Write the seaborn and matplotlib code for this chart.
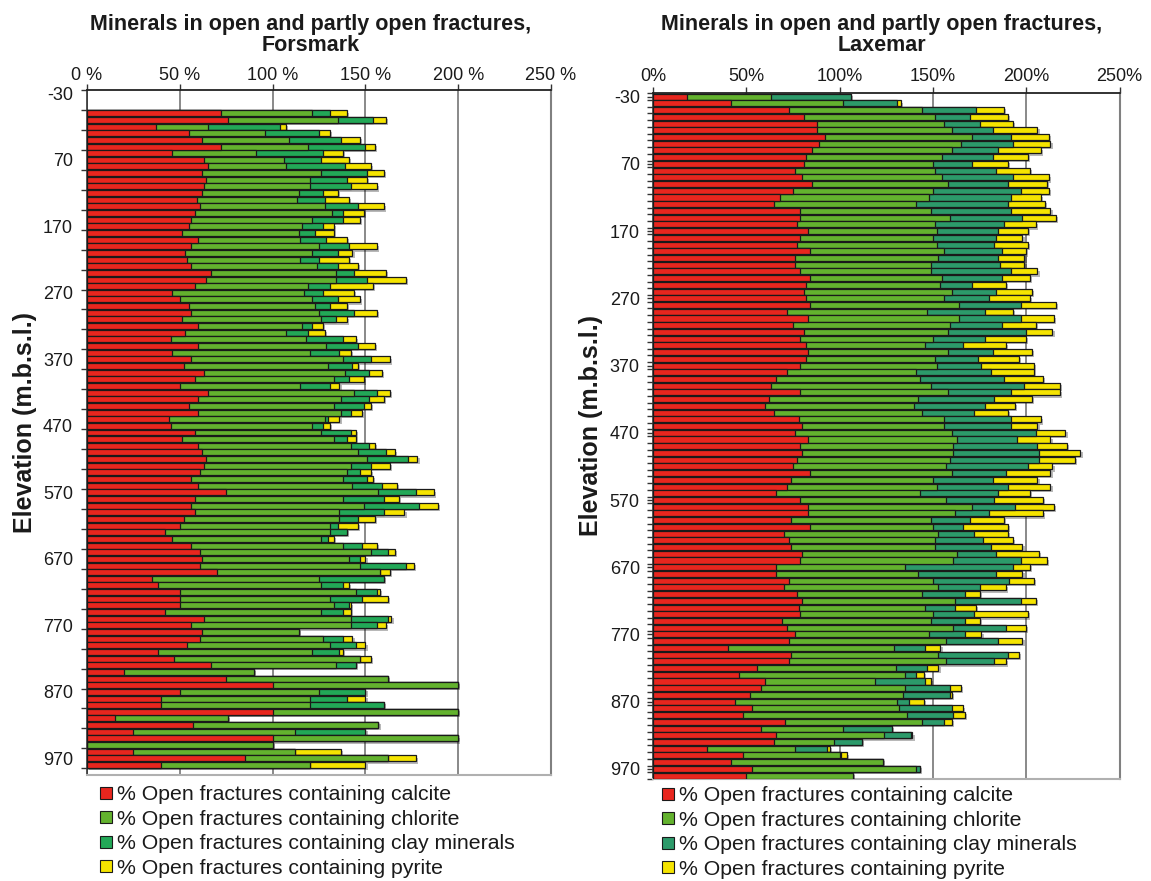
import numpy as np
import pandas as pd
import matplotlib
matplotlib.use("Agg")
import matplotlib.pyplot as plt
import matplotlib.patheffects as pe
from matplotlib.lines import Line2D
import seaborn as sns

sns.set_theme(style="white")
plt.rcParams["font.family"] = ["Liberation Sans", "DejaVu Sans"]

nan = np.nan

# ---------------- Forsmark (elevation -30 ... 990 m, step 10) ----------------
fors_elev = list(range(-30, 1000, 10))
fors_calcite = [nan, nan, nan, 72, 76, 37, 55, 62, 72, 46,
                63, 65, 62, 64, 63, 62, 59, 61, 58, 56,
                55, 51, 60, 56, 53, 54, 56, 67, 64, 58,
                46, 50, 55, 56, 51, 60, 53, 45, 60, 46,
                56, 52, 63, 58, 50, 65, 60, 55, 60, 44,
                45, 58, 51, 60, 62, 64, 63, 61, 56, 60,
                75, 58, 56, 58, 52, 50, 42, 46, 56, 61,
                62, 61, 70, 35, 38, 50, 50, 50, 42, 63,
                56, 62, 61, 54, 38, 47, 67, 20, 75, 100,
                50, 40, 40, 100, 15, 57, 25, 100, 0, 25,
                85, 40, nan]
fors_chlorite = [nan, nan, nan, 49, 59, 28, 41, 47, 47, 45,
                 43, 42, 64, 56, 57, 52, 54, 67, 74, 65,
                 61, 63, 55, 69, 68, 61, 68, 67, 70, 61,
                 71, 71, 68, 69, 75, 56, 54, 73, 69, 74,
                 82, 78, 76, 75, 65, 79, 77, 78, 77, 84,
                 76, 68, 82, 82, 84, 87, 79, 79, 82, 83,
                 82, 80, 93, 78, 84, 81, 89, 80, 82, 92,
                 79, 86, 88, 90, 88, 95, 81, 83, 84, 79,
                 86, 52, 66, 77, 83, 100, 67, 70, 87, 100,
                 75, 80, 80, 100, 61, 100, 87, 100, 100, 87,
                 77, 80, nan]
fors_clay = [nan, nan, nan, 10, 19, 39, 29, 28, 31, 36,
             20, 32, 25, 20, 22, 13, 15, 18, 6, 17,
             11, 9, 14, 16, 14, 10, 11, 10, 17, 12,
             10, 14, 8, 19, 8, 5, 12, 20, 17, 16,
             15, 13, 13, 8, 16, 12, 15, 16, 5, 2,
             6, 16, 7, 10, 15, 22, 11, 7, 13, 16,
             20, 22, 30, 24, 10, 4, 9, 4, 10, 9,
             6, 25, 0, 35, 12, 11, 17, 8, 12, 20,
             14, 0, 11, 14, 15, 0, 11, 0, 0, 0,
             25, 20, 40, 0, 0, 0, 38, 0, 0, 0,
             0, 0, nan]
fors_pyrite = [nan, nan, nan, 9, 7, 3, 6, 10, 5, 11,
               15, 14, 9, 11, 14, 8, 13, 14, 11, 9,
               6, 10, 11, 15, 8, 16, 11, 17, 21, 23,
               17, 12, 9, 12, 6, 6, 9, 7, 9, 6,
               10, 3, 7, 8, 5, 7, 8, 4, 6, 6,
               4, 3, 5, 3, 5, 5, 10, 6, 3, 8,
               10, 8, 10, 11, 9, 11, 0, 3, 8, 4,
               3, 4, 5, 0, 3, 2, 14, 1, 4, 2,
               5, 0, 5, 5, 2, 6, 0, 0, 0, 0,
               0, 10, 0, 0, 0, 0, 0, 0, 0, 25,
               15, 30, nan]

# ---------------- Laxemar (elevation -30 ... 980 m, step 10) ----------------
lax_elev = list(range(-30, 990, 10))
lax_calcite = [18, 42, 73, 81, 88, 88, 92, 89, 85, 82,
               81, 76, 80, 85, 75, 68, 65, 79, 79, 77,
               83, 79, 77, 84, 76, 76, 79, 84, 82, 81,
               82, 84, 72, 83, 75, 81, 79, 82, 83, 82,
               79, 72, 66, 63, 79, 62, 60, 65, 78, 80,
               76, 83, 79, 80, 77, 75, 84, 74, 72, 66,
               79, 83, 83, 74, 84, 70, 73, 74, 80, 79,
               66, 66, 73, 70, 77, 80, 78, 79, 69, 72,
               76, 73, 40, 74, 73, 56, 46, 60, 58, 52,
               44, 53, 48, 71, 58, 66, 65, 29, 48, 42,
               53, 50]
lax_chlorite = [45, 60, 71, 70, 68, 72, 79, 76, 75, 73,
                69, 75, 75, 73, 75, 80, 76, 70, 80, 74,
                69, 71, 75, 72, 77, 73, 70, 71, 72, 79,
                74, 80, 75, 81, 84, 77, 71, 64, 75, 69,
                73, 69, 77, 86, 79, 80, 80, 79, 78, 76,
                84, 80, 82, 81, 82, 82, 76, 76, 80, 77,
                78, 88, 79, 75, 66, 83, 78, 77, 83, 82,
                69, 76, 77, 83, 67, 82, 68, 71, 80, 89,
                72, 84, 89, 79, 84, 74, 89, 59, 77, 82,
                87, 79, 88, 73, 44, 58, 32, 47, 52, 81,
                88, 57]
lax_clay = [43, 29, 29, 19, 19, 22, 21, 28, 25, 27,
            21, 33, 38, 32, 47, 44, 49, 43, 39, 37,
            33, 34, 31, 31, 32, 37, 43, 32, 17, 24,
            24, 33, 31, 33, 28, 42, 28, 20, 24, 23,
            24, 40, 45, 50, 34, 41, 38, 28, 36, 36,
            45, 32, 45, 46, 48, 44, 29, 32, 38, 42,
            26, 23, 18, 21, 16, 19, 26, 30, 21, 36,
            58, 42, 41, 22, 23, 35, 16, 22, 18, 28,
            19, 28, 17, 37, 26, 17, 6, 27, 24, 25,
            6, 28, 25, 12, 26, 14, 15, 17, 1, 0,
            2, 0]
lax_pyrite = [0, 2, 15, 20, 18, 24, 20, 20, 23, 19,
              19, 18, 19, 21, 15, 16, 20, 21, 18, 17,
              16, 14, 18, 13, 14, 13, 14, 15, 18, 19,
              22, 19, 15, 18, 18, 14, 22, 23, 21, 22,
              28, 23, 21, 19, 26, 20, 16, 18, 16, 14,
              16, 18, 16, 22, 19, 13, 24, 24, 23, 17,
              26, 21, 29, 18, 24, 18, 16, 17, 23, 14,
              9, 14, 13, 14, 8, 8, 11, 29, 8, 11,
              9, 13, 8, 6, 6, 6, 4, 3, 6, 1,
              8, 6, 6, 4, 0, 1, 0, 2, 3, 0,
              0, 0]

series_names = ["% Open fractures containing calcite",
                "% Open fractures containing chlorite",
                "% Open fractures containing clay minerals",
                "% Open fractures containing pyrite"]
x_ticks = [0, 50, 100, 150, 200, 250]

RED = "#E8261E"
GREEN = "#63B22E"
CLAY_F = "#22A857"
CLAY_L = "#2C9A6A"
YELLOW = "#F5E400"

W, H = 1151, 881
fig = plt.figure(figsize=(W / 100, H / 100), dpi=100)


def px_axes(x0, y0, x1, y1):
    return fig.add_axes([x0 / W, 1 - y1 / H, (x1 - x0) / W, (y1 - y0) / H])


def draw(ax, elev, calc, chl, clay, pyr, clay_color, tick_fmt, minor_every,
         major_len, ylab_pad, xpad):
    labels = [str(e) for e in elev]
    calc = np.array(calc, float)
    chl = np.array(chl, float)
    clay = np.array(clay, float)
    pyr = np.array(pyr, float)
    df = pd.DataFrame({"Elevation": labels,
                       "c1": calc,
                       "c2": calc + chl,
                       "c3": calc + chl + clay,
                       "c4": calc + chl + clay + pyr})
    layers = [("c4", YELLOW), ("c3", clay_color), ("c2", GREEN), ("c1", RED)]
    for i, (col, colr) in enumerate(layers):
        n0 = len(ax.patches)
        sns.barplot(data=df, x=col, y="Elevation", order=labels, orient="h",
                    color=colr, saturation=1, edgecolor="#1a1a1a",
                    linewidth=0.9, width=0.9, errorbar=None, ax=ax, zorder=3)
        if i == 0:
            for p in ax.patches[n0:]:
                p.set_path_effects([pe.SimplePatchShadow(offset=(1.6, -1.6),
                                                         shadow_rgbFace="#000000",
                                                         alpha=0.28),
                                    pe.Normal()])
    n = len(labels)
    ax.set_xlim(0, 250)
    ax.set_ylim(n - 0.5, -0.5)
    ax.xaxis.tick_top()
    ax.set_xticks(x_ticks)
    ax.set_xticklabels([tick_fmt.format(v) for v in x_ticks])
    ax.tick_params(axis="x", top=True, bottom=False, length=4, width=1,
                   color="#333333", labelsize=13, pad=xpad, labelcolor="#1a1a1a")
    major = list(range(0, n, 10))
    ax.set_yticks(major)
    ax.set_yticklabels([labels[i] for i in major])
    ax.set_yticks(np.arange(-0.5, n, minor_every), minor=True)
    ax.tick_params(axis="y", which="major", left=True, length=major_len,
                   width=1, color="#333333", labelsize=13, pad=ylab_pad,
                   labelcolor="#1a1a1a")
    ax.tick_params(axis="y", which="minor", left=True, length=4, width=1,
                   color="#333333")
    ax.grid(axis="x", color="#808080", linewidth=1.3, zorder=0)
    ax.grid(axis="y", visible=False)
    ax.set_axisbelow(True)
    ax.spines["top"].set_color("#222222")
    ax.spines["top"].set_linewidth(1.3)
    ax.spines["right"].set_color("#808080")
    ax.spines["right"].set_linewidth(1.5)
    ax.spines["bottom"].set_color("#b0b0b0")
    ax.spines["bottom"].set_linewidth(1.5)
    ax.spines["left"].set_color("#333333")
    ax.spines["left"].set_linewidth(1.2)
    ax.set_xlabel("")
    ax.set_ylabel("Elevation (m.b.s.l.)", fontsize=18, fontweight="bold",
                  color="#1a1a1a")
    ax.yaxis.set_label_coords(-0.108, 0.515)


ax1 = px_axes(87, 90, 551, 775)
draw(ax1, fors_elev, fors_calcite, fors_chlorite, fors_clay, fors_pyrite,
     CLAY_F, "{} %", 3, 0, 10, 0.5)
ax2 = px_axes(653, 93.3, 1119.5, 779)
draw(ax2, lax_elev, lax_calcite, lax_chlorite, lax_clay, lax_pyrite,
     CLAY_L, "{}%", 1, 4.5, 5, 2)

fig.text(311 / W, 1 - 35 / H, "Minerals in open and partly open fractures,\nForsmark",
         ha="center", va="center", fontsize=15.5, fontweight="bold",
         linespacing=1.05, color="#1a1a1a")
fig.text(882 / W, 1 - 35 / H, "Minerals in open and partly open fractures,\nLaxemar",
         ha="center", va="center", fontsize=15.5, fontweight="bold",
         linespacing=1.05, color="#1a1a1a")


def legend(x_px, y_px, clay_color):
    cols = [RED, GREEN, clay_color, YELLOW]
    handles = [Line2D([0], [0], marker="s", linestyle="none", markersize=8,
                      markerfacecolor=c, markeredgecolor="#1a1a1a",
                      markeredgewidth=0.8) for c in cols]
    fig.legend(handles, series_names, loc="upper left",
               bbox_to_anchor=(x_px / W, 1 - y_px / H), frameon=False,
               fontsize=15.3, labelspacing=0.26, handlelength=0.7,
               handletextpad=0.17, borderpad=0, borderaxespad=0,
               labelcolor="#1a1a1a")


legend(99, 785, CLAY_F)
legend(661, 786, CLAY_L)

fig.savefig("out.png", dpi=100)
